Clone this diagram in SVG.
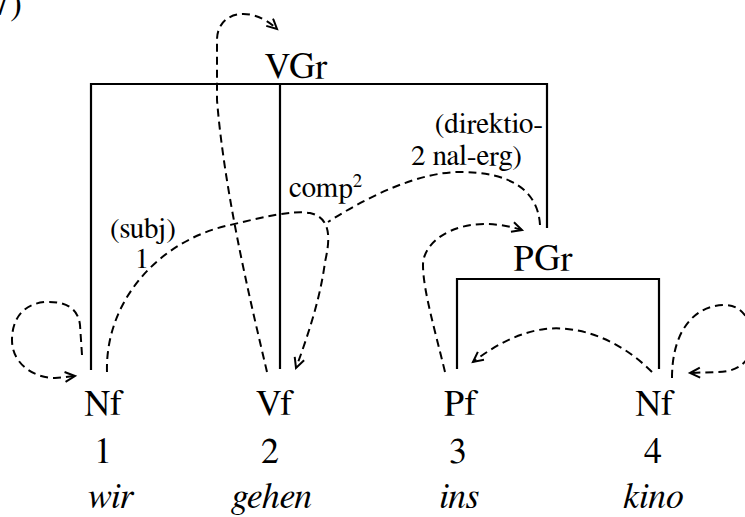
<svg xmlns="http://www.w3.org/2000/svg" width="745" height="517" viewBox="0 0 745 517" font-family="FreeSerif, 'Liberation Serif', 'Times New Roman', serif">
<defs>
<marker id="ah" markerWidth="14" markerHeight="14" refX="11" refY="6" orient="auto" markerUnits="userSpaceOnUse">
<path d="M1,1 L11,6 L1,11" fill="none" stroke="#000" stroke-width="2"/>
</marker>
</defs>
<style>
.big{font-size:36px;text-anchor:middle}
.it{font-style:italic}
.sm{font-size:29px}
.solid{fill:none;stroke:#000;stroke-width:2.2}
.dash{fill:none;stroke:#000;stroke-width:2;stroke-dasharray:8 5}
</style>
<rect width="745" height="517" fill="#fff"/>
<text x="22" y="15" font-size="36" text-anchor="end">(7)</text>
<g id="vgr">
<text class="big" x="296" y="78">VGr</text>
<path class="solid" d="M91,370 V84 H547 V228"/>
<path class="solid" d="M280,84 V369"/>
</g>
<g id="pgr">
<text class="big" x="543" y="270">PGr</text>
<path class="solid" d="M457,369 V279 H659 V369"/>
</g>
<g id="n1">
<text class="big" x="104" y="415">Nf</text>
<text class="big" x="103" y="463">1</text>
<text class="big it" x="110" y="508">wir</text>
</g>
<g id="n2">
<text class="big" x="275" y="415">Vf</text>
<text class="big" x="270" y="463">2</text>
<text class="big it" x="272" y="508">gehen</text>
</g>
<g id="n3">
<text class="big" x="461" y="415">Pf</text>
<text class="big" x="458" y="463">3</text>
<text class="big it" x="459" y="508">ins</text>
</g>
<g id="n4">
<text class="big" x="655" y="415">Nf</text>
<text class="big" x="653" y="463">4</text>
<text class="big it" x="653" y="508">kino</text>
</g>
<g id="labels">
<text class="sm" x="110" y="238">(subj)</text>
<text class="sm" x="142" y="268" text-anchor="middle">1</text>
<text class="sm" x="289" y="197">comp<tspan font-size="19" dy="-10">2</tspan></text>
<text class="sm" x="543" y="133" text-anchor="end">(direktio-</text>
<text class="sm" x="411" y="165">2 nal-erg)</text>
</g>
<g id="connectors">
<path class="dash" d="M82,355 L80,325 C78,306 62,301 45,302 C22,304 12,320 12,340 C12,364 34,378 55,378 L75,376" marker-end="url(#ah)"/>
<path class="dash" d="M107,372 C105,300 160,240 230,225 C260,218 290,210 310,213 C332,218 330,240 325,262 C320,300 308,335 296,368" marker-end="url(#ah)"/>
<path class="dash" d="M540,225 C538,190 510,172 460,172 C420,172 370,195 328,222"/>
<path class="dash" d="M267,372 C255,320 225,200 217,100 L217,40 C217,12 250,4 277,29" marker-end="url(#ah)"/>
<path class="dash" d="M445,372 C435,330 423,290 423,265 C423,238 465,212 522,230" marker-end="url(#ah)"/>
<path class="dash" d="M652,372 C620,340 580,325 545,329 C520,332 495,345 473,362" marker-end="url(#ah)"/>
<path class="dash" d="M672,378 C672,330 695,305 725,305 C745,305 752,325 752,340 C752,360 740,372 717,372 L690,373" marker-end="url(#ah)"/>
</g>
</svg>
